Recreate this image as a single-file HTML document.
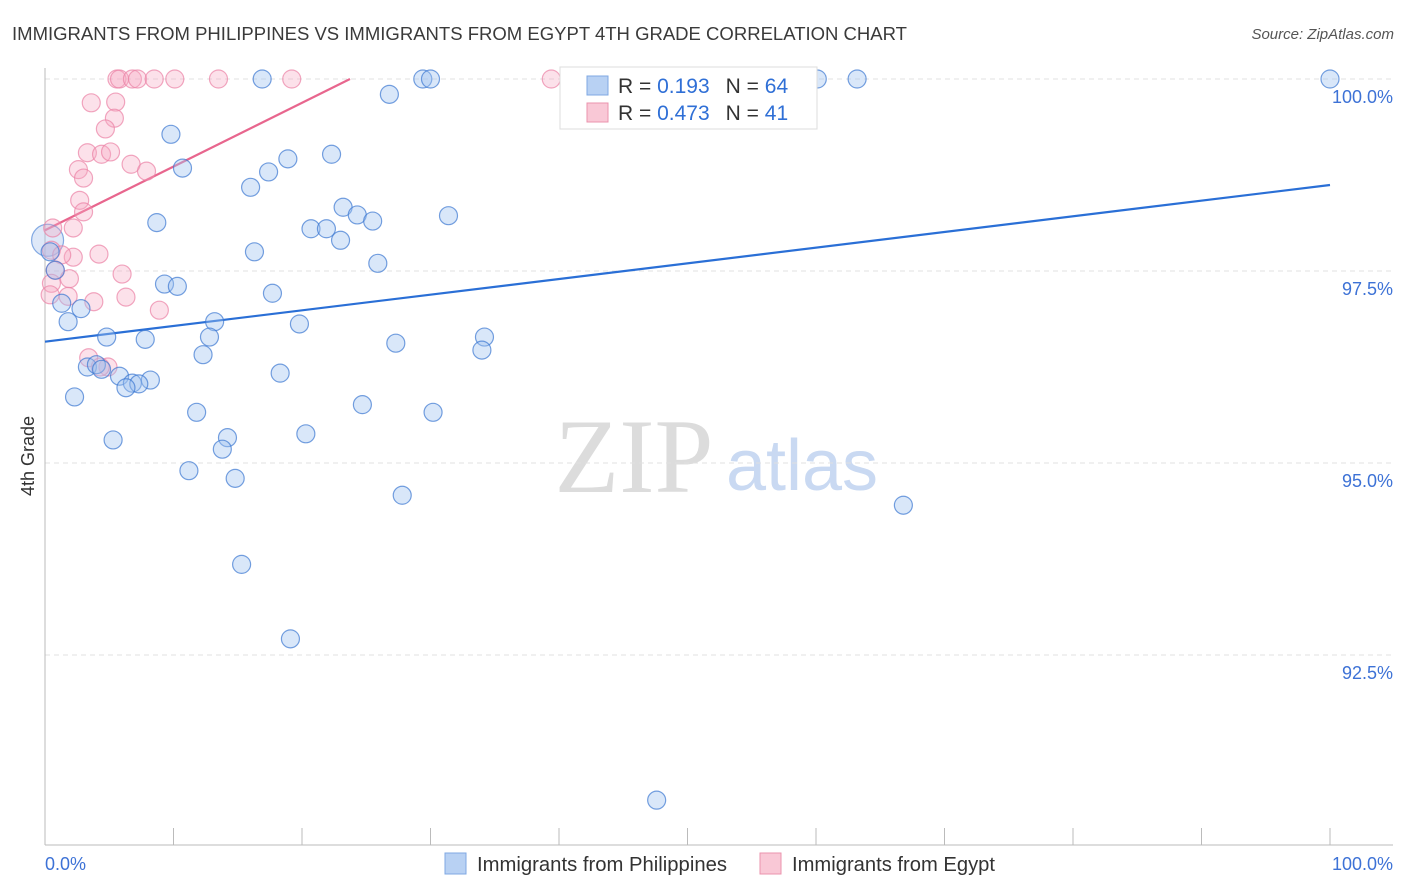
<!DOCTYPE html>
<html><head><meta charset="utf-8"><style>
body{margin:0;background:#fff;font-family:"Liberation Sans",sans-serif}
svg{display:block}
</style></head><body>
<svg id="chart" width="1406" height="892">
<text x="12" y="40" font-size="18" fill="#3a3a3a" textLength="895" lengthAdjust="spacingAndGlyphs">IMMIGRANTS FROM PHILIPPINES VS IMMIGRANTS FROM EGYPT 4TH GRADE CORRELATION CHART</text>
<text x="1394" y="39" font-size="15" fill="#555" font-style="italic" text-anchor="end">Source: ZipAtlas.com</text>
<text transform="translate(34,456) rotate(-90)" font-size="18" fill="#333" text-anchor="middle">4th Grade</text>
<g>
<text x="634" y="492" font-size="106" font-family="Liberation Serif,serif" fill="#dcdcdc" text-anchor="middle">ZIP</text>
<text x="802" y="490" font-size="72" fill="#c9d9f2" text-anchor="middle">atlas</text>
</g>
<g id="grid"></g><g id="axes"></g><g id="trend"></g><g id="points"></g>
<g>
<rect x="560" y="67" width="257" height="62" fill="#fff" stroke="#ddd"/>
<rect x="587" y="76" width="21" height="19" fill="#b8d1f3" stroke="#7fa8e3"/>
<text x="618" y="93" font-size="21" fill="#333">R = <tspan fill="#2f6fd6"> 0.193</tspan><tspan dx="16">N = </tspan><tspan fill="#2f6fd6">64</tspan></text>
<rect x="587" y="103" width="21" height="19" fill="#f9c8d6" stroke="#eb93ad"/>
<text x="618" y="120" font-size="21" fill="#333">R = <tspan fill="#2f6fd6">0.473</tspan><tspan dx="16">N = </tspan><tspan fill="#2f6fd6"> 41</tspan></text>
</g>
<g>
<rect x="445" y="853" width="21" height="21" fill="#b8d1f3" stroke="#7fa8e3"/>
<text x="477" y="871" font-size="20" fill="#333" textLength="250" lengthAdjust="spacingAndGlyphs">Immigrants from Philippines</text>
<rect x="760" y="853" width="21" height="21" fill="#f9c8d6" stroke="#eb93ad"/>
<text x="792" y="871" font-size="20" fill="#333" textLength="203" lengthAdjust="spacingAndGlyphs">Immigrants from Egypt</text>
</g>
</svg>
<script>
const yTicks=[100,97.5,95,92.5];
const yTickLabels=["100.0%","97.5%","95.0%","92.5%"];
const xTickLabels=["0.0%","100.0%"];
const blueX=[16.9,29.4,30.0,60.1,63.2,100,26.8,9.8,10.7,22.3,18.9,17.4,16.0,23.2,24.3,25.5,31.4,8.7,20.7,21.9,23.0,16.3,25.9,0.8,0.4,1.3,9.3,10.3,17.7,2.8,1.8,13.2,19.8,4.8,7.8,12.8,27.3,34.2,34.0,12.3,3.3,4.0,4.4,18.3,5.8,8.2,6.8,7.3,6.3,2.3,11.8,24.7,30.2,5.3,14.2,20.3,13.8,11.2,14.8,27.8,66.8,15.3,19.1,47.6];
const blueY=[100,100,100,100,100,100,99.80,99.28,98.84,99.02,98.96,98.79,98.59,98.33,98.23,98.15,98.22,98.13,98.05,98.05,97.90,97.75,97.60,97.51,97.75,97.08,97.33,97.30,97.21,97.01,96.84,96.84,96.81,96.64,96.61,96.64,96.56,96.64,96.47,96.41,96.25,96.28,96.22,96.17,96.13,96.08,96.04,96.03,95.98,95.86,95.66,95.76,95.66,95.30,95.33,95.38,95.18,94.90,94.80,94.58,94.45,93.68,92.71,90.61];
const pinkX=[5.6,5.8,6.8,7.2,8.5,10.1,13.5,19.2,39.4,3.6,5.5,5.4,4.7,3.3,4.4,5.1,6.7,7.9,2.6,3.0,2.7,3.0,2.2,0.6,0.5,4.2,2.2,1.3,6.0,0.8,1.9,0.5,3.8,6.3,1.8,0.4,8.9,3.4,4.9,4.3];
const pinkY=[100,100,100,100,100,100,100,100,100,99.69,99.70,99.49,99.35,99.04,99.02,99.05,98.89,98.80,98.82,98.71,98.42,98.27,98.06,98.06,97.77,97.72,97.68,97.71,97.46,97.51,97.40,97.34,97.10,97.16,97.17,97.19,96.99,96.37,96.25,96.25];
const bigBlue=[0.2,97.90];
const blueTrend=[96.58,0.0204];
const pinkTrend=[98.03,0.083];
const NS="http://www.w3.org/2000/svg";
const X=v=>45+v*12.85, Y=v=>79+(100-v)*76.8;
function mk(p,t,a){const e=document.createElementNS(NS,t);for(const k in a)e.setAttribute(k,a[k]);p.appendChild(e);return e;}
const grid=document.getElementById('grid'),axes=document.getElementById('axes'),trend=document.getElementById('trend'),pts=document.getElementById('points');
yTicks.forEach((v,i)=>{
 const l=mk(grid,'line',{x1:45,x2:1393,y1:Y(v),y2:Y(v),stroke:'#e0e0e0','stroke-dasharray':'5,4'});
 
 
 const t=mk(grid,'text',{x:1393,y:Y(v)+24,'font-size':18,fill:'#3d72d6','text-anchor':'end'});t.textContent=yTickLabels[i];
 
 
});
mk(axes,'line',{x1:45,x2:45,y1:68,y2:845,stroke:'#bbb'});
mk(axes,'line',{x1:45,x2:1393,y1:845,y2:845,stroke:'#bbb'});
for(let i=0;i<=10;i++){const tk=mk(axes,'line',{x1:X(i*10),x2:X(i*10),y1:828,y2:845,stroke:'#bbb'});
 
 }
const xl0=mk(axes,'text',{x:45,y:870,'font-size':18,fill:'#3d72d6'});xl0.textContent=xTickLabels[0];


const xl1=mk(axes,'text',{x:1393,y:870,'font-size':18,fill:'#3d72d6','text-anchor':'end'});xl1.textContent=xTickLabels[1];


function dot(x,y,r,f,s,name){const c=mk(pts,'circle',{cx:X(x),cy:Y(y),r:r,fill:f,stroke:s,'stroke-width':1.2});
 
 }
dot(bigBlue[0],bigBlue[1],16,'rgba(160,190,235,0.35)','rgba(60,120,210,0.6)','point-philippines-large');
pinkX.forEach((x,i)=>dot(x,pinkY[i],9,'rgba(245,170,195,0.35)','rgba(235,130,165,0.7)','point-egypt'));
blueX.forEach((x,i)=>dot(x,blueY[i],9,'rgba(160,195,240,0.4)','rgba(60,120,210,0.7)','point-philippines'));
const bl=mk(trend,'line',{x1:X(0),y1:Y(blueTrend[0]),x2:X(100),y2:Y(blueTrend[0]+100*blueTrend[1]),stroke:'#2a6fd6','stroke-width':2.2});


const pEnd=(100-pinkTrend[0])/pinkTrend[1];
const pl=mk(trend,'line',{x1:X(0),y1:Y(pinkTrend[0]),x2:X(pEnd),y2:Y(100),stroke:'#e8668e','stroke-width':2.2});


</script>
</body></html>
